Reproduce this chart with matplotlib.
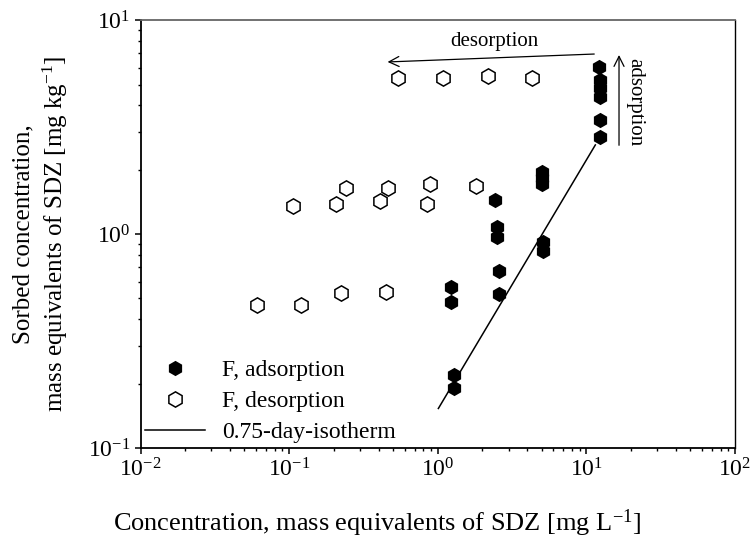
import matplotlib
matplotlib.use("Agg")
import matplotlib.pyplot as plt

# ── Données ──────────────────────────────────────────────────────────────────
ads_x = [1.23, 1.23, 1.29, 1.29,
         2.43, 2.49, 2.49, 2.57, 2.57,
         5.0, 5.0, 5.0, 5.1, 5.1,
         12.2, 12.3, 12.3, 12.3, 12.4, 12.4]
ads_y = [0.567, 0.483, 0.219, 0.19,
         1.45, 1.08, 0.97, 0.675, 0.525,
         1.95, 1.83, 1.71, 0.918, 0.834,
         6.05, 5.25, 4.81, 4.36, 3.41, 2.83]

des_x = [0.54, 1.09, 2.18, 4.31,
         0.107, 0.207, 0.240, 0.409, 0.460, 0.851, 0.887, 1.81,
         0.0605, 0.120, 0.223, 0.447]
des_y = [5.36, 5.36, 5.47, 5.36,
         1.35, 1.38, 1.64, 1.42, 1.65, 1.38, 1.71, 1.68,
         0.466, 0.468, 0.528, 0.536]

iso_x = [1.01, 11.5]
iso_y = [0.153, 2.61]

plt.rcParams["font.family"] = "serif"
plt.rcParams["font.serif"] = ["Liberation Serif", "DejaVu Serif"]
plt.rcParams["mathtext.fontset"] = "custom"
plt.rcParams["mathtext.rm"] = "Liberation Serif"
plt.rcParams["mathtext.it"] = "Liberation Serif:italic"
plt.rcParams["mathtext.bf"] = "Liberation Serif:bold"

fig, ax = plt.subplots(figsize=(7.53, 5.44), dpi=100)
fig.subplots_adjust(left=0.1866, right=0.976, top=0.963, bottom=0.1765)

ax.plot(ads_x, ads_y, "h", color="black", ms=11, mew=0, label="F, adsorption", zorder=3)
ax.plot(des_x, des_y, "h", mfc="white", mec="black", ms=11, mew=1.1,
        label="F, desorption", zorder=3)
ax.plot(iso_x, iso_y, "-", color="black", lw=1.1, label="0.75-day-isotherm", zorder=2)

ax.set_xscale("log")
ax.set_yscale("log")
ax.set_xlim(1e-2, 1e2)
ax.set_ylim(1e-1, 1e1)

ax.tick_params(which="both", direction="out", top=False, right=False, labelsize=17)
ax.tick_params(which="major", length=4, width=1.1)
ax.tick_params(which="minor", length=2.5, width=1.0)
for side in ["left", "bottom"]:
    ax.spines[side].set_linewidth(1.3)
ax.spines["top"].set_color("#666666")
ax.spines["top"].set_linewidth(1.3)
ax.spines["right"].set_linewidth(1.0)

ax.set_xlabel("Concentration, mass equivalents of SDZ [mg L$^{-1}$]", fontsize=19)
ax.xaxis.set_label_coords(0.398, -0.14)
ax.set_ylabel("Sorbed concentration,\nmass equivalents of SDZ [mg kg$^{-1}$]", fontsize=18,
              linespacing=1.3)
ax.yaxis.set_label_coords(-0.118, 0.5)

# flèches desorption / adsorption
ax.annotate("", xy=(0.411, 0.902), xytext=(0.768, 0.921), xycoords="axes fraction",
            arrowprops=dict(arrowstyle="->", lw=0.9, color="black", mutation_scale=18))
ax.text(0.595, 0.949, "desorption", transform=ax.transAxes, ha="center", va="center",
        fontsize=15)
ax.annotate("", xy=(0.805, 0.925), xytext=(0.805, 0.701), xycoords="axes fraction",
            arrowprops=dict(arrowstyle="->", lw=0.9, color="black", mutation_scale=18))
ax.text(0.832, 0.808, "adsorption", transform=ax.transAxes, ha="center", va="center",
        fontsize=15, rotation=-90)

ax.legend(loc="lower left", frameon=False, fontsize=17, handlelength=2.55,
          handletextpad=0.7, labelspacing=0.4, borderpad=0.1, borderaxespad=0.1,
          bbox_to_anchor=(0.0, 0.0))

fig.savefig("out.png", dpi=100)
